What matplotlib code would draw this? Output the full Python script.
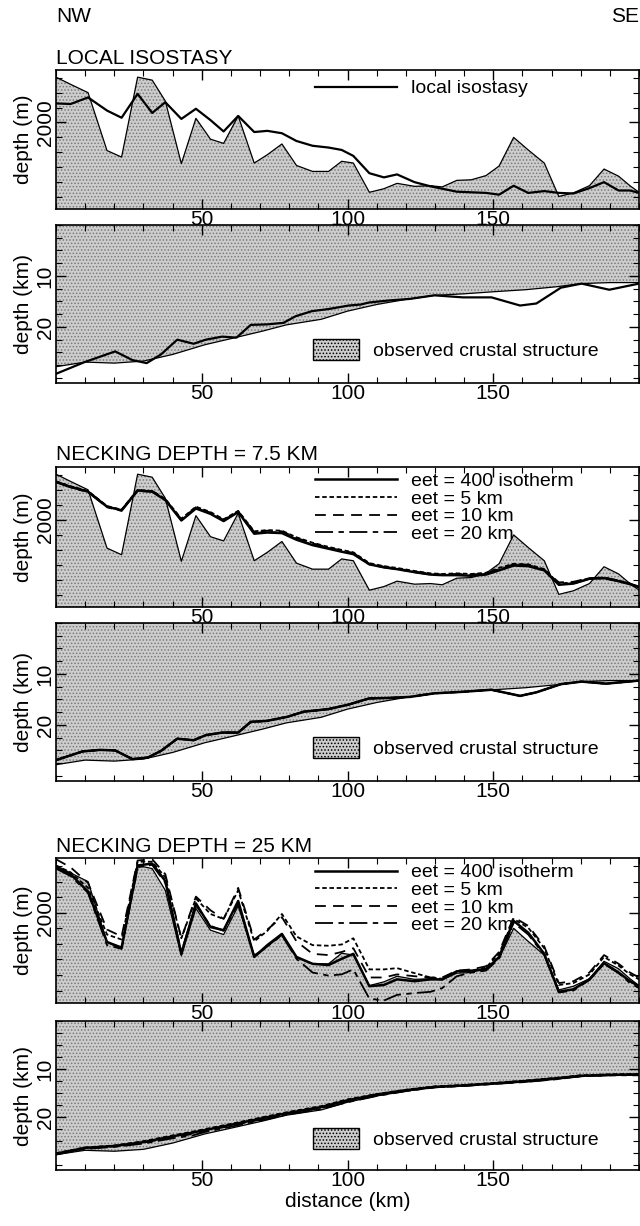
import matplotlib.pyplot as plt
from matplotlib.ticker import MultipleLocator, FixedLocator
from matplotlib.patches import Patch
from matplotlib.lines import Line2D

plt.rcParams['font.family'] = ['Liberation Sans', 'DejaVu Sans']
plt.rcParams['hatch.linewidth'] = 0.7

# ---- bathymetry (m), sampled along profile (km)
X_BATHY = [0, 5, 11, 17.5, 22.5, 28, 33, 37.5, 43, 48, 53, 57.5, 62.5, 68, 72.5, 77.5, 82.5, 88,
           93.5, 98, 102, 107.5, 112.5, 117, 123, 128.5, 132.5, 137.5, 142.5, 147.5, 152, 157,
           162, 167.5, 172.5, 177.5, 183, 188, 193, 196.9, 200]
OBS_BATHY = [1240, 1360, 1500, 2470, 2580, 1240, 1290, 1640, 2690, 1930, 2280, 2350, 1890, 2680,
             2540, 2360, 2720, 2820, 2820, 2650, 2680, 3170, 3110, 3020, 3070, 3060, 3080, 2970,
             2960, 2890, 2730, 2250, 2460, 2680, 3240, 3180, 3060, 2780, 2900, 3060, 3170]
LOCAL_ISO = [1680, 1690, 1580, 1800, 1920, 1520, 1840, 1660, 1940, 1770, 1960, 2150, 1890, 2160,
             2140, 2180, 2310, 2390, 2420, 2460, 2560, 2850, 2920, 2870, 3000, 3070, 3110, 3160,
             3170, 3180, 3210, 3060, 3180, 3150, 3180, 3190, 3100, 3000, 3140, 3140, 3180]

# necking depth 7.5 km
NK75_EET400 = [1370, 1450, 1530, 1780, 1840, 1510, 1530, 1670, 2010, 1810, 1900, 2020, 1870, 2230,
               2210, 2220, 2330, 2420, 2480, 2530, 2570, 2740, 2790, 2820, 2870, 2910, 2920, 2920,
               2930, 2910, 2840, 2760, 2770, 2840, 3080, 3060, 2980, 2970, 3020, 3070, 3120]
NK75_EET5 = [1360, 1440, 1520, 1770, 1830, 1500, 1520, 1650, 1980, 1780, 1870, 1990, 1850, 2190,
             2170, 2180, 2290, 2380, 2450, 2500, 2540, 2720, 2770, 2800, 2850, 2890, 2900, 2890,
             2900, 2880, 2800, 2730, 2740, 2820, 3060, 3040, 2970, 2960, 3010, 3060, 3110]
NK75_EET10 = [1360, 1450, 1530, 1780, 1840, 1510, 1520, 1660, 1990, 1790, 1880, 2000, 1860, 2200,
              2180, 2190, 2300, 2390, 2460, 2510, 2550, 2730, 2780, 2810, 2860, 2900, 2910, 2900,
              2910, 2890, 2820, 2740, 2750, 2830, 3040, 3030, 2970, 2960, 3010, 3060, 3110]
NK75_EET20 = [1370, 1460, 1540, 1790, 1850, 1520, 1530, 1670, 2000, 1800, 1890, 2010, 1870, 2220,
              2200, 2210, 2320, 2410, 2470, 2520, 2560, 2740, 2790, 2820, 2870, 2910, 2920, 2910,
              2920, 2900, 2830, 2750, 2760, 2840, 3070, 3060, 2980, 2970, 3020, 3070, 3120]

# necking depth 25 km
NK25_EET400 = [1270, 1380, 1660, 2470, 2560, 1240, 1210, 1490, 2660, 1850, 2230, 2280, 1810, 2710,
               2520, 2340, 2710, 2820, 2840, 2740, 2660, 3180, 3160, 3070, 3100, 3070, 3070, 2940,
               2930, 2910, 2710, 2130, 2320, 2660, 3270, 3230, 3070, 2810, 2960, 3100, 3180]
NK25_EET5 = [1240, 1350, 1600, 2350, 2430, 1180, 1180, 1430, 2410, 1770, 2020, 2100, 1640, 2460,
             2290, 2020, 2380, 2520, 2530, 2510, 2410, 2910, 2910, 2890, 2970, 3040, 3060, 2950,
             2930, 2880, 2660, 2100, 2240, 2570, 3160, 3130, 2990, 2710, 2850, 2990, 3070]
NK25_EET10 = [1140, 1270, 1520, 2270, 2380, 1160, 1140, 1380, 2410, 1740, 1960, 2100, 1600, 2430,
              2270, 2070, 2460, 2660, 2680, 2630, 2570, 3040, 3040, 2990, 3020, 3040, 3040, 2930,
              2910, 2860, 2630, 2070, 2210, 2540, 3130, 3100, 2960, 2680, 2820, 2960, 3040]
NK25_EET20 = [1290, 1410, 1680, 2520, 2580, 1270, 1230, 1520, 2630, 1880, 2210, 2290, 1850, 2710,
              2540, 2360, 2740, 2960, 3010, 2990, 2910, 3380, 3410, 3320, 3290, 3270, 3210, 3020,
              2960, 2930, 2740, 2160, 2350, 2680, 3280, 3250, 3080, 2820, 2970, 3130, 3210]

# ---- Moho depth (km)
X_MOHO = [0, 10, 20, 30, 40, 47, 51, 60, 71, 79, 91, 100, 110, 120, 130, 140, 150, 161, 172, 180,
          190, 200]
OBS_MOHO = [27.8, 26.9, 27.1, 26.7, 25.4, 24.2, 23.5, 22.3, 20.8, 19.6, 18.5, 16.9, 15.6, 14.6,
            13.8, 13.5, 13.1, 12.7, 12.1, 11.5, 11.3, 11.3]

X_MOHO_LI = [0, 9.8, 20.3, 26.2, 31.1, 36.0, 41.6, 47.2, 51.4, 57.0, 61.9, 66.8, 72.4, 78.0, 82.2,
             87.8, 93.4, 100.4, 104.6, 107.4, 114.4, 121.4, 129.8, 139.6, 149.4, 159.2, 164.8,
             173.2, 180.3, 189.8, 200]
MOHO_LI = [29.2, 26.9, 24.8, 26.5, 27.1, 25.4, 22.5, 23.3, 22.5, 21.9, 22.1, 19.6, 19.5, 19.2, 17.9,
           16.9, 16.5, 15.8, 15.6, 15.2, 14.8, 14.5, 13.8, 14.2, 14.2, 15.8, 15.4, 12.3, 11.5,
           12.7, 11.5]

X_MOHO_75 = [0, 9.1, 15, 20.3, 26.2, 31.5, 36, 41.6, 47.2, 51.4, 57, 62.5, 66.8, 72.4, 79.4, 85,
             93.4, 100.4, 107.4, 114.4, 121.4, 129.8, 139.6, 149.4, 159.2, 164.8, 173.2, 180.3,
             188.7, 200]
MOHO_75 = [26.9, 25.2, 24.9, 25.0, 26.7, 26.4, 25.1, 22.7, 23.0, 22.0, 21.5, 21.5, 19.4, 19.2,
           18.4, 17.4, 16.9, 16.0, 14.8, 14.7, 14.5, 13.8, 13.5, 13.1, 14.3, 13.6, 12.0, 11.5,
           11.9, 11.3]

MOHO_25_EET400 = [27.6, 26.4, 26.0, 25.2, 24.0, 23.2, 22.7, 21.6, 20.2, 19.2, 17.9, 16.5, 15.3,
                  14.4, 13.7, 13.4, 13.0, 12.5, 11.9, 11.4, 11.2, 11.1]
MOHO_25_EET5 = [27.5, 26.3, 25.9, 25.0, 23.8, 23.0, 22.5, 21.4, 20.0, 19.0, 17.7, 16.3, 15.2,
                14.3, 13.6, 13.3, 12.9, 12.4, 11.8, 11.3, 11.1, 11.0]
MOHO_25_EET10 = [27.7, 26.5, 26.1, 25.3, 24.2, 23.5, 22.9, 21.8, 20.4, 19.4, 18.1, 16.7, 15.5,
                 14.5, 13.8, 13.5, 13.1, 12.6, 12.0, 11.5, 11.3, 11.2]
MOHO_25_EET20 = [27.8, 26.6, 26.2, 25.5, 24.4, 23.8, 23.1, 22.0, 20.6, 19.5, 18.3, 16.9, 15.6,
                 14.6, 13.8, 13.5, 13.1, 12.7, 12.1, 11.5, 11.3, 11.3]

EET_LABELS = ['eet = 400 isotherm', 'eet = 5 km', 'eet = 10 km', 'eet = 20 km']
EET_STYLES = ['-', (0, (2.5, 1.5)), (0, (6, 4)), (0, (10, 3, 3, 3))]
EET_WIDTHS = [1.8, 1.3, 1.3, 1.3]

GREY = '#cdcdcd'
DOTS = '#7a7a7a'
FS = 14
W, H = 640, 1226

fig = plt.figure(figsize=(W / 100, H / 100), dpi=100)


def panel(top, bottom):
    ax = fig.add_axes([56 / W, 1 - bottom / H, 583 / W, (bottom - top) / H])
    ax.patch.set_visible(False)
    ax.set_xlim(0, 200)
    ax.xaxis.set_major_locator(FixedLocator([50, 100, 150]))
    ax.xaxis.set_minor_locator(MultipleLocator(10))
    ax.tick_params(which='both', direction='in', top=True, right=True, labelsize=15, pad=1)
    ax.tick_params(which='major', length=7, width=1)
    ax.tick_params(which='minor', length=4, width=0.8)
    for s in ax.spines.values():
        s.set_linewidth(1.2)
    return ax


def shade(ax, x, y1, y2):
    ax.fill_between(x, y1, y2, facecolor=GREY, edgecolor=DOTS, hatch='.....', lw=0)


def bathy_panel(ax):
    shade(ax, X_BATHY, OBS_BATHY, 4000)
    ax.plot(X_BATHY, OBS_BATHY, color='k', lw=0.9)
    ax.set_ylim(3450, 1120)
    ax.set_yticks([2000])
    ax.yaxis.set_minor_locator(MultipleLocator(250))
    ax.set_ylabel('depth (m)', fontsize=15, labelpad=2)
    for t in ax.get_yticklabels():
        t.set_rotation(90)
        t.set_va('center')


def crust_panel(ax):
    shade(ax, X_MOHO, -1, OBS_MOHO)
    ax.plot(X_MOHO, OBS_MOHO, color='k', lw=0.9)
    ax.set_ylim(31, 0)
    ax.set_yticks([10, 20])
    ax.yaxis.set_minor_locator(MultipleLocator(2.5))
    ax.set_ylabel('depth (km)', fontsize=15, labelpad=2)
    for t in ax.get_yticklabels():
        t.set_rotation(90)
        t.set_va('center')
    h = Patch(facecolor=GREY, edgecolor='k', hatch='.....', lw=1)
    ax.legend([h], ['observed crustal structure'], loc='center left',
              bbox_to_anchor=(0.44, 0.21), frameon=False, fontsize=FS,
              handlelength=2.4, handleheight=1.3, handletextpad=0.7,
              borderpad=0, borderaxespad=0)


def eet_legend(ax):
    handles = [Line2D([], [], color='k', ls=s, lw=w) for s, w in zip(EET_STYLES, EET_WIDTHS)]
    ax.legend(handles, EET_LABELS, loc='upper left', bbox_to_anchor=(0.445, 0.96),
              frameon=False, fontsize=FS, handlelength=4.2, handletextpad=0.7,
              labelspacing=0.0, borderpad=0, borderaxespad=0)


fig.text(56 / W, 1 - 16 / H, 'NW', fontsize=15, va='center')
fig.text(639 / W, 1 - 16 / H, 'SE', fontsize=15, va='center', ha='right')

# LOCAL ISOSTASY
ax1 = panel(70, 209)
bathy_panel(ax1)
ax1.plot(X_BATHY, LOCAL_ISO, color='k', lw=1.6, label='local isostasy')
ax1.legend(loc='upper left', bbox_to_anchor=(0.445, 0.93), frameon=False, fontsize=FS,
           handlelength=4.2, handletextpad=0.7, borderpad=0, borderaxespad=0)
fig.text(56 / W, 1 - 58 / H, 'LOCAL ISOSTASY', fontsize=15, va='center')

ax2 = panel(225, 383)
crust_panel(ax2)
ax2.plot(X_MOHO_LI, MOHO_LI, color='k', lw=1.6)

# NECKING DEPTH = 7.5 KM
ax3 = panel(467, 607)
bathy_panel(ax3)
for ys, s, w in zip([NK75_EET400, NK75_EET5, NK75_EET10, NK75_EET20], EET_STYLES, EET_WIDTHS):
    ax3.plot(X_BATHY, ys, color='k', ls=s, lw=w)
eet_legend(ax3)
fig.text(56 / W, 1 - 455 / H, 'NECKING DEPTH = 7.5 KM', fontsize=15, va='center')

ax4 = panel(623, 781)
crust_panel(ax4)
for s, w in zip(EET_STYLES, EET_WIDTHS):
    ax4.plot(X_MOHO_75, MOHO_75, color='k', ls=s, lw=w)

# NECKING DEPTH = 25 KM
ax5 = panel(858, 1003)
bathy_panel(ax5)
for ys, s, w in zip([NK25_EET400, NK25_EET5, NK25_EET10, NK25_EET20], EET_STYLES, EET_WIDTHS):
    ax5.plot(X_BATHY, ys, color='k', ls=s, lw=w)
eet_legend(ax5)
fig.text(56 / W, 1 - 846 / H, 'NECKING DEPTH = 25 KM', fontsize=15, va='center')

ax6 = panel(1021, 1170)
crust_panel(ax6)
for ys, s, w in zip([MOHO_25_EET400, MOHO_25_EET5, MOHO_25_EET10, MOHO_25_EET20], EET_STYLES, EET_WIDTHS):
    ax6.plot(X_MOHO, ys, color='k', ls=s, lw=w)
ax6.set_xlabel('distance (km)', fontsize=15, labelpad=1)

fig.savefig('out.png', dpi=100)
